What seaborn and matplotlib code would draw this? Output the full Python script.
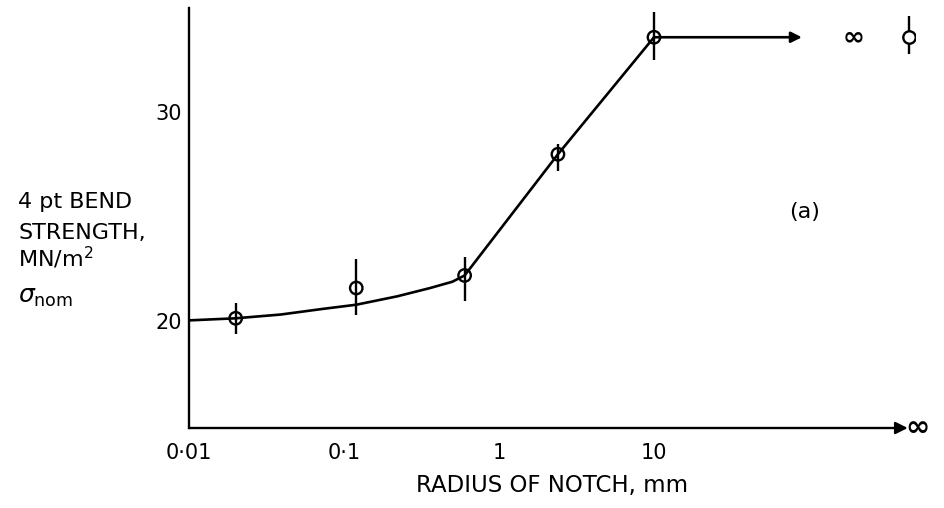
import numpy as np
import pandas as pd
import matplotlib
matplotlib.use("Agg")
import matplotlib.pyplot as plt
import seaborn as sns

# measured points (radius of notch in mm, strength in MN/m2)
notch_r = [0.02, 0.12, 0.6, 2.4, 10]
strength = [20.15, 21.6, 22.2, 28.0, 33.6]
err_lo = [19.4, 20.3, 21.0, 27.2, 32.5]
err_hi = [20.9, 23.0, 23.1, 28.5, 34.8]

# the "infinite radius" point, drawn past the end of the scale
inf_r = [440]
inf_strength = [33.6]
inf_lo = [32.8]
inf_hi = [34.6]
inf_label_r = 195

# hand drawn trend curve
curve_r = [0.01, 0.02, 0.039, 0.073, 0.12, 0.22, 0.36, 0.5, 0.6, 2.4, 10]
curve_s = [20.05, 20.15, 20.33, 20.6, 20.8, 21.2, 21.6, 21.9, 22.2, 28.0, 33.6]
arrow_end_r = 90

xticks = [0.01, 0.1, 1, 10]
xtick_labels = ["0\u00b701", "0\u00b71", "1", "10"]
yticks = [20, 30]

sns.set_style("white")
plt.rcParams["font.family"] = ["DejaVu Sans"]
plt.rcParams["mathtext.fontset"] = "dejavusans"
plt.rcParams["text.color"] = "black"
plt.rcParams["axes.labelcolor"] = "black"

fig = plt.figure(figsize=(9.44, 5.08), dpi=100)
ax = fig.add_axes([189/944, 80/508, 726/944, 420/508])
ax.set_xscale("log")
ax.set_xlim(0.01, 10**2.684)
ax.set_ylim(14.9, 35.0)

pts = pd.DataFrame({"r": notch_r, "s": strength})
curve = pd.DataFrame({"r": curve_r, "s": curve_s})

sns.lineplot(data=curve, x="r", y="s", sort=False, estimator=None,
             color="black", lw=1.9, ax=ax)
ax.vlines(notch_r, err_lo, err_hi, color="black", lw=1.7)
ax.vlines(inf_r, inf_lo, inf_hi, color="black", lw=1.7)
sns.scatterplot(data=pts, x="r", y="s", s=80, facecolor="none",
                edgecolor="black", linewidth=1.7, ax=ax, zorder=5)
sns.scatterplot(x=inf_r, y=inf_strength, s=80, color="white",
                edgecolor="black", linewidth=1.7, ax=ax, zorder=5)

# horizontal arrow running off toward infinity
ax.annotate("", xy=(arrow_end_r, strength[-1]), xytext=(notch_r[-1], strength[-1]),
            arrowprops=dict(arrowstyle="-|>", color="black", lw=1.9,
                            mutation_scale=16, shrinkA=0, shrinkB=0))
ax.text(inf_label_r, inf_strength[0], "\u221e", fontsize=19, fontweight="bold",
        ha="center", va="center")

# axes styling
for sp in ["top", "right", "bottom"]:
    ax.spines[sp].set_visible(False)
ax.spines["left"].set_linewidth(1.7)
ax.spines["left"].set_color("black")
ax.annotate("", xy=(0.99, 0), xytext=(0, 0), xycoords="axes fraction",
            arrowprops=dict(arrowstyle="-|>", color="black", lw=1.7,
                            mutation_scale=18, shrinkA=0, shrinkB=0))
ax.text(1.004, 0, "\u221e", transform=ax.transAxes, fontsize=21,
        fontweight="bold", ha="center", va="center")

ax.set_xticks(xticks)
ax.set_xticklabels(xtick_labels)
ax.xaxis.set_minor_locator(matplotlib.ticker.NullLocator())
ax.set_yticks(yticks)
ax.tick_params(axis="both", direction="in", length=8, width=1.5, colors="black",
               labelsize=15)
ax.tick_params(axis="x", pad=11)
ax.tick_params(axis="y", pad=5)
ax.set_xlabel("RADIUS OF NOTCH, mm", fontsize=16.5, labelpad=8)
ax.set_ylabel("")

fig.text(18/944, 1-202/508, "4 pt BEND", fontsize=16, va="center", ha="left")
fig.text(18/944, 1-233/508, "STRENGTH,", fontsize=16, va="center", ha="left")
fig.text(18/944, 1-258/508, r"MN/m$^2$", fontsize=16, va="center", ha="left")
fig.text(18/944, 1-297/508, r"$\sigma_{\rm nom}$", fontsize=18, va="center", ha="left")
fig.text(805/944, 1-212/508, "(a)", fontsize=16, va="center", ha="center")

fig.savefig("out.png", dpi=100)
